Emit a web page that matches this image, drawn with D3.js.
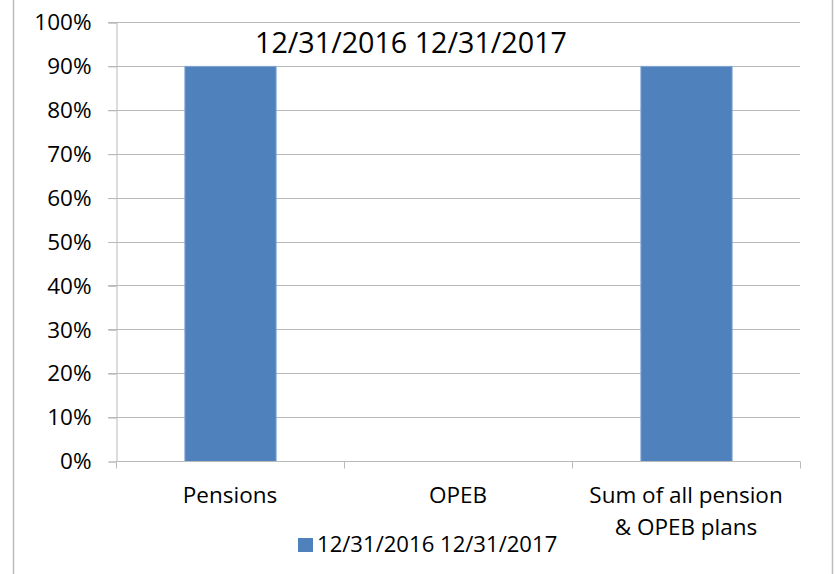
<!DOCTYPE html>
<html>
<head>
<meta charset="utf-8">
<script src="https://cdn.jsdelivr.net/npm/d3@7"></script>
<style>
  html, body { margin: 0; padding: 0; background: #fff; }
  svg { display: block; font-family: "Open Sans", "Noto Sans", sans-serif; }
</style>
</head>
<body>
<div id="chart"></div>
<script>
// Chart data
const categories = ["Pensions", "OPEB", "Sum of all pension\n& OPEB plans"];
const values = [0.9, 0, 0.9];
const yTicks = [0, 0.1, 0.2, 0.3, 0.4, 0.5, 0.6, 0.7, 0.8, 0.9, 1.0];
const seriesName = "12/31/2016 12/31/2017";
const titleText = "12/31/2016 12/31/2017";

// Size and plot box
const W = 835, H = 574;
const plot = {left: 116, right: 800, top: 22, bottom: 461};
const gridColor = "#bababa";
const barColor = "#4f81bd";

const svg = d3.select("#chart")
    .append("svg")
    .attr("width", W)
    .attr("height", H);

// Outer chart border (left and right edges visible)
svg.append("line")
    .attr("x1", 13.5).attr("x2", 13.5)
    .attr("y1", 0).attr("y2", H)
    .attr("stroke", "#bcbcbc").attr("stroke-width", 1.5);
svg.append("line")
    .attr("x1", 832.5).attr("x2", 832.5)
    .attr("y1", 0).attr("y2", H)
    .attr("stroke", "#bcbcbc").attr("stroke-width", 1.5);

// Scales
const x = d3.scaleBand()
    .domain(categories)
    .range([plot.left, plot.right])
    .paddingInner(0.6)
    .paddingOuter(0.3);

const xOuter = d3.scaleBand()
    .domain(categories)
    .range([plot.left, plot.right]);

const y = d3.scaleLinear()
    .domain([0, 1])
    .range([plot.bottom, plot.top]);

// Gridlines
svg.append("g")
    .selectAll("line")
    .data(yTicks.filter(d => d > 0))
    .join("line")
    .attr("x1", plot.left - 8)
    .attr("x2", plot.right)
    .attr("y1", d => Math.round(y(d)) + 0.5)
    .attr("y2", d => Math.round(y(d)) + 0.5)
    .attr("stroke", gridColor)
    .attr("stroke-width", 1);

// Y axis
const yAxis = d3.axisLeft(y)
    .tickValues(yTicks)
    .tickFormat(d3.format(".0%"))
    .tickSize(8)
    .tickPadding(17);

const gy = svg.append("g")
    .attr("transform", `translate(${plot.left + 0.5},0.5)`)
    .call(yAxis);
gy.select(".domain").attr("stroke", gridColor);
gy.selectAll(".tick line").attr("stroke", gridColor);
gy.selectAll(".tick text")
    .attr("fill", "#000")
    .style("font-size", "22.5px")
    .style("font-family", "'Open Sans', sans-serif");

// Bars
svg.append("g")
    .selectAll("rect")
    .data(categories.map((c, i) => ({c, v: values[i]})).filter(d => d.v > 0))
    .join("rect")
    .attr("x", d => x(d.c) + 0.5)
    .attr("y", d => y(d.v) + 0.5)
    .attr("width", x.bandwidth())
    .attr("height", d => y(0) - y(d.v))
    .attr("fill", barColor)
    .attr("stroke", "#7fa4d1")
    .attr("stroke-width", 1);

// X axis
const xAxis = d3.axisBottom(xOuter)
    .tickSize(0)
    .tickFormat("");
const gx = svg.append("g")
    .attr("transform", `translate(0,${Math.round(plot.bottom) + 0.5})`)
    .call(xAxis);
gx.select(".domain").attr("stroke", gridColor)
    .attr("d", `M${plot.left},0H${plot.right}`);
gx.selectAll(".tick").remove();

// Tick marks at category boundaries
const boundaries = categories.map(c => xOuter(c)).concat([plot.right]);
gx.selectAll(".bound")
    .data(boundaries)
    .join("line")
    .attr("class", "bound")
    .attr("x1", d => Math.round(d) + 0.5)
    .attr("x2", d => Math.round(d) + 0.5)
    .attr("y1", 0)
    .attr("y2", 7)
    .attr("stroke", gridColor);

// Category labels (multi-line)
const catLabels = svg.append("g")
    .selectAll("text")
    .data(categories)
    .join("text")
    .attr("x", d => xOuter(d) + xOuter.bandwidth() / 2)
    .attr("y", 503)
    .attr("text-anchor", "middle")
    .style("font-size", "22.5px")
    .attr("fill", "#000");
catLabels.each(function(d) {
    const lines = d.split("\n");
    const t = d3.select(this);
    lines.forEach((ln, i) => {
        t.append("tspan")
            .attr("x", xOuter(d) + xOuter.bandwidth() / 2)
            .attr("dy", i === 0 ? 0 : 32)
            .text(ln);
    });
});

// Title
svg.append("text")
    .attr("x", 411)
    .attr("y", 53)
    .attr("text-anchor", "middle")
    .style("font-size", "28.7px")
    .attr("fill", "#000")
    .text(titleText);

// Legend
const legend = svg.append("g").attr("transform", "translate(298,538)");
legend.append("rect")
    .attr("width", 15)
    .attr("height", 14)
    .attr("fill", barColor);
legend.append("text")
    .attr("x", 19)
    .attr("y", 14)
    .style("font-size", "22.1px")
    .attr("fill", "#000")
    .text(seriesName);
</script>
</body>
</html>
